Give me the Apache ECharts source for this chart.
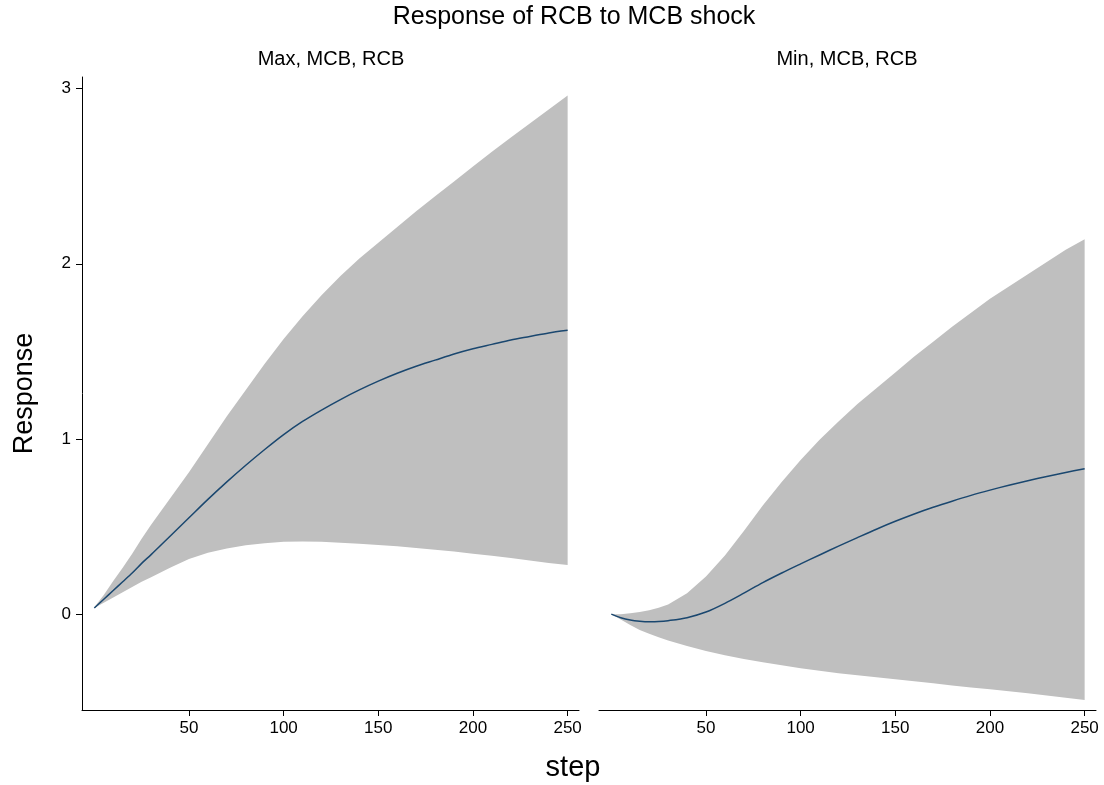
<!DOCTYPE html>
<html>
<head>
<meta charset="utf-8">
<script src="https://cdn.jsdelivr.net/npm/echarts@6/dist/echarts.min.js"></script>
<style>
  html, body { margin: 0; padding: 0; background: #fff; }
  #chart { width: 1104px; height: 785px; }
</style>
</head>
<body>
<div id="chart"></div>
<script>
// steps of the impulse response
var steps = [0, 5, 10, 15, 20, 25, 30, 40, 50, 60, 70, 80, 90, 100, 110, 120, 130, 140, 150, 160, 170, 180, 190, 200, 210, 220, 230, 240, 250];

// Max, MCB, RCB
var maxIrf = [0.035, 0.085, 0.135, 0.185, 0.235, 0.29, 0.34, 0.445, 0.55, 0.655, 0.755, 0.85, 0.94, 1.025, 1.10, 1.165, 1.225, 1.28, 1.33, 1.375, 1.415, 1.45, 1.485, 1.515, 1.54, 1.565, 1.585, 1.605, 1.62];
var maxUpper = [0.04, 0.11, 0.19, 0.265, 0.345, 0.43, 0.51, 0.66, 0.81, 0.97, 1.13, 1.28, 1.43, 1.57, 1.70, 1.82, 1.93, 2.03, 2.12, 2.21, 2.30, 2.385, 2.47, 2.555, 2.64, 2.72, 2.80, 2.88, 2.96];
var maxLower = [0.035, 0.065, 0.095, 0.125, 0.155, 0.185, 0.21, 0.265, 0.315, 0.35, 0.375, 0.393, 0.405, 0.413, 0.415, 0.413, 0.408, 0.402, 0.395, 0.387, 0.378, 0.368, 0.357, 0.345, 0.333, 0.32, 0.306, 0.292, 0.28];

// Min, MCB, RCB
var minIrf = [0, -0.02, -0.033, -0.04, -0.043, -0.042, -0.037, -0.02, 0.012, 0.062, 0.12, 0.18, 0.235, 0.287, 0.338, 0.388, 0.437, 0.485, 0.53, 0.572, 0.61, 0.645, 0.678, 0.708, 0.736, 0.762, 0.786, 0.809, 0.83];
var minUpper = [0, 0.0, 0.005, 0.012, 0.022, 0.036, 0.055, 0.12, 0.215, 0.335, 0.475, 0.62, 0.755, 0.88, 0.995, 1.10, 1.20, 1.29, 1.38, 1.47, 1.555, 1.64, 1.72, 1.80, 1.87, 1.94, 2.01, 2.08, 2.14];
var minLower = [0, -0.03, -0.062, -0.09, -0.112, -0.132, -0.15, -0.182, -0.21, -0.235, -0.256, -0.275, -0.292, -0.308, -0.323, -0.337, -0.349, -0.36, -0.371, -0.383, -0.395, -0.407, -0.418, -0.429, -0.44, -0.452, -0.464, -0.477, -0.49];

var panelTitles = ['Max, MCB, RCB', 'Min, MCB, RCB'];
var xTicks = [50, 100, 150, 200, 250];
var yTicks = [0, 1, 2, 3];

var FONT = '"Liberation Sans", Arial, Helvetica, sans-serif';
var BAND = '#bfbfbf';
var LINE = '#1a476f';

var pairs = function (vals) {
    var out = [];
    for (var i = 0; i < steps.length; i++) out.push([steps[i], vals[i]]);
    return out;
};

// confidence band drawn as one polygon, points placed with api.coord
var bandSeries = function (idx, up, lo) {
    return {
        type: 'custom', xAxisIndex: idx, yAxisIndex: idx, silent: true, z: 1,
        data: pairs(up),
        renderItem: function (params, api) {
            if (params.dataIndex !== 0) return null;
            var pts = [];
            for (var i = 0; i < steps.length; i++) pts.push(api.coord([steps[i], up[i]]));
            for (var j = steps.length - 1; j >= 0; j--) pts.push(api.coord([steps[j], lo[j]]));
            return {type: 'polygon', shape: {points: pts}, style: {fill: BAND, stroke: null}};
        }
    };
};

var lineSeries = function (idx, irf) {
    return {type: 'line', xAxisIndex: idx, yAxisIndex: idx, data: pairs(irf), z: 3,
        smooth: 0.3, symbol: 'none', lineStyle: {width: 1.5, color: LINE}, silent: true};
};

var xAxisFor = function (idx) {
    return {
        type: 'value', gridIndex: idx, min: -6.5, max: 256,
        splitLine: {show: false},
        axisLine: {show: true, onZero: false, lineStyle: {color: '#000', width: 1}},
        axisTick: {show: true, length: 6, customValues: xTicks, lineStyle: {color: '#000'}},
        axisLabel: {customValues: xTicks, margin: 10, color: '#000', fontSize: 17, fontFamily: FONT}
    };
};

var yAxisFor = function (idx) {
    var ax = {
        type: 'value', gridIndex: idx, min: -0.547, max: 3.066,
        splitLine: {show: false},
        axisLine: {show: idx === 0, onZero: false, lineStyle: {color: '#000', width: 1}},
        axisTick: {show: idx === 0, length: 6, customValues: yTicks, lineStyle: {color: '#000'}},
        axisLabel: {show: idx === 0, customValues: yTicks, margin: 11, color: '#000', fontSize: 17, fontFamily: FONT}
    };
    if (idx === 0) {
        ax.name = 'Response';
        ax.nameLocation = 'middle';
        ax.nameGap = 44;
        ax.nameTextStyle = {color: '#000', fontSize: 27, fontFamily: FONT};
    }
    return ax;
};

var chart = echarts.init(document.getElementById('chart'), null, {renderer: 'canvas'});
chart.setOption({
    backgroundColor: '#fff',
    animation: false,
    title: [
        {text: 'Response of RCB to MCB shock', left: 574, top: 5, textAlign: 'center', padding: 0,
            textStyle: {fontSize: 25, fontWeight: 'normal', color: '#000', fontFamily: FONT}},
        {text: panelTitles[0], left: 331, top: 49, textAlign: 'center', padding: 0,
            textStyle: {fontSize: 20, fontWeight: 'normal', color: '#000', fontFamily: FONT}},
        {text: panelTitles[1], left: 847, top: 49, textAlign: 'center', padding: 0,
            textStyle: {fontSize: 20, fontWeight: 'normal', color: '#000', fontFamily: FONT}},
        {text: 'step', left: 573, top: 753, textAlign: 'center', padding: 0,
            textStyle: {fontSize: 29, fontWeight: 'normal', color: '#000', fontFamily: FONT}}
    ],
    grid: [
        {left: 82, top: 77, width: 497, height: 633},
        {left: 599, top: 77, width: 497, height: 633}
    ],
    xAxis: [xAxisFor(0), xAxisFor(1)],
    yAxis: [yAxisFor(0), yAxisFor(1)],
    series: [
        bandSeries(0, maxUpper, maxLower), lineSeries(0, maxIrf),
        bandSeries(1, minUpper, minLower), lineSeries(1, minIrf)
    ]
});
</script>
</body>
</html>
